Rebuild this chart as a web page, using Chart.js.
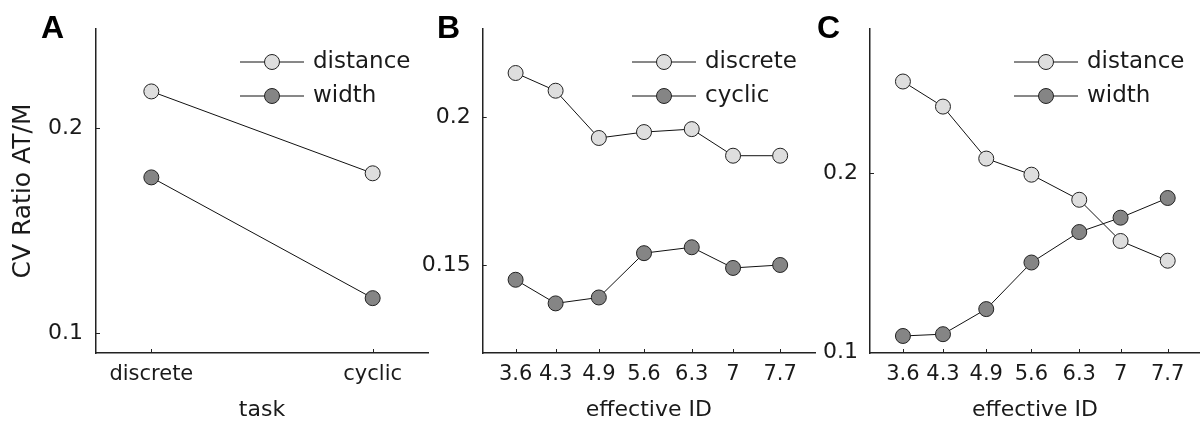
<!DOCTYPE html>
<html>
<head>
<meta charset="utf-8">
<script src="https://cdn.jsdelivr.net/npm/chart.js@4.4.1/dist/chart.umd.min.js"></script>
<style>
  body { margin: 0; background: #fff; }
  #wrap { position: relative; width: 1200px; height: 426px; overflow: hidden; background: #fff; }
  canvas { position: absolute; top: 0; }
</style>
</head>
<body>
<div id="wrap">
  <canvas id="chartA" width="430" height="426" style="left:0px"></canvas>
  <canvas id="chartB" width="420" height="426" style="left:400px"></canvas>
  <canvas id="chartC" width="410" height="426" style="left:790px"></canvas>
</div>
<script>
// panel A: task
const taskLabels = ["discrete", "cyclic"];
const taskPos = [1, 2];
const aDistance = [0.218, 0.178];
const aWidth = [0.176, 0.117];
const aTicks = [0.1, 0.2];

// panels B, C: effective ID
const idLabels = ["3.6", "4.3", "4.9", "5.6", "6.3", "7", "7.7"];
const idValues = [3.6, 4.22, 4.89, 5.59, 6.33, 6.97, 7.7];
const bDiscrete = [0.215, 0.209, 0.193, 0.195, 0.196, 0.187, 0.187];
const bCyclic = [0.145, 0.137, 0.139, 0.154, 0.156, 0.149, 0.150];
const bTicks = [0.15, 0.2];
const cDistance = [0.251, 0.237, 0.208, 0.199, 0.185, 0.162, 0.151];
const cWidth = [0.109, 0.110, 0.124, 0.150, 0.167, 0.175, 0.186];
const cTicks = [0.1, 0.2];

const LIGHT = "#dedede";
const DARK = "#858585";
const FONT = "'DejaVu Sans', sans-serif";

// inward ticks, legend with line-marker-line, panel letter
const panelDeco = {
  id: "panelDeco",
  afterDraw(chart, args, opts) {
    const { ctx, chartArea, scales: { x, y } } = chart;
    ctx.save();
    ctx.strokeStyle = "#222";
    ctx.lineWidth = 1;
    x.ticks.forEach(t => {
      const px = Math.round(x.getPixelForValue(t.value)) + 0.5;
      ctx.beginPath();
      ctx.moveTo(px, chartArea.bottom);
      ctx.lineTo(px, chartArea.bottom - 4);
      ctx.stroke();
    });
    y.ticks.forEach(t => {
      const py = Math.round(y.getPixelForValue(t.value)) + 0.5;
      ctx.beginPath();
      ctx.moveTo(chartArea.left, py);
      ctx.lineTo(chartArea.left + 4, py);
      ctx.stroke();
    });

    // legend inside the axes
    const x0 = chartArea.right - opts.dx;
    chart.data.datasets.forEach((ds, i) => {
      const ly = chartArea.top + 33 + i * 34;
      ctx.strokeStyle = "#111";
      ctx.lineWidth = 1;
      ctx.beginPath();
      ctx.moveTo(x0, ly);
      ctx.lineTo(x0 + 64, ly);
      ctx.stroke();
      ctx.beginPath();
      ctx.arc(x0 + 32, ly, 7.5, 0, Math.PI * 2);
      ctx.fillStyle = ds.backgroundColor;
      ctx.fill();
      ctx.strokeStyle = "#222";
      ctx.stroke();
      ctx.fillStyle = "#1a1a1a";
      ctx.font = "23px " + FONT;
      ctx.textBaseline = "middle";
      ctx.textAlign = "left";
      ctx.fillText(ds.label, x0 + 73, ly);
    });

    ctx.fillStyle = "#000";
    ctx.font = "bold 32px 'Liberation Sans', Arial, sans-serif";
    ctx.textBaseline = "alphabetic";
    ctx.fillText(opts.letter, opts.lx, 38);
    ctx.restore();
  }
};

function series(label, xs, ys, fill) {
  return {
    label: label,
    data: ys.map((v, i) => ({ x: xs[i], y: v })),
    borderColor: "#111",
    borderWidth: 1,
    backgroundColor: fill,
    pointBackgroundColor: fill,
    pointBorderColor: "#222",
    pointBorderWidth: 1,
    pointRadius: 7.5,
    clip: false
  };
}

function makeChart(id, cfg) {
  new Chart(document.getElementById(id), {
    type: "line",
    data: { datasets: cfg.datasets },
    plugins: [panelDeco],
    options: {
      responsive: false,
      animation: false,
      layout: { autoPadding: false, padding: { top: 29, right: cfg.padRight, left: 0, bottom: 0 } },
      plugins: {
        legend: { display: false },
        tooltip: { enabled: false },
        panelDeco: { dx: cfg.legendDx, letter: cfg.letter, lx: cfg.letterX }
      },
      scales: {
        x: {
          type: "linear",
          min: cfg.xMin,
          max: cfg.xMax,
          grid: { display: false },
          border: { display: true, color: "#222", width: 1.5 },
          afterBuildTicks: s => { s.ticks = cfg.xTickPos.map(v => ({ value: v })); },
          afterFit: s => { s.height = 73; s.paddingLeft = 0; s.paddingRight = 0; },
          ticks: {
            color: "#1a1a1a",
            font: { family: FONT, size: 21 },
            padding: 1,
            maxRotation: 0,
            autoSkip: false,
            callback: (v, i) => cfg.xTickLabels[i]
          },
          title: {
            display: true,
            text: cfg.xTitle,
            color: "#1a1a1a",
            font: { family: FONT, size: 22 },
            padding: { top: 0, bottom: 3 }
          }
        },
        y: {
          min: cfg.yMin,
          max: cfg.yMax,
          grid: { display: false },
          border: { display: true, color: "#222", width: 1.5 },
          afterBuildTicks: s => { s.ticks = cfg.yTicks.map(v => ({ value: v })); },
          afterFit: s => { s.width = cfg.yWidth; s.paddingTop = 0; s.paddingBottom = 0; },
          ticks: {
            color: "#1a1a1a",
            font: { family: FONT, size: 22 },
            padding: cfg.yPad,
            callback: v => String(v)
          },
          title: {
            display: !!cfg.yTitle,
            text: cfg.yTitle || "",
            color: "#1a1a1a",
            font: { family: FONT, size: 25 },
            padding: { top: 8, bottom: 0 }
          }
        }
      }
    }
  });
}

makeChart("chartA", {
  datasets: [series("distance", taskPos, aDistance, LIGHT), series("width", taskPos, aWidth, DARK)],
  xMin: 0.75, xMax: 2.25, xTickPos: taskPos, xTickLabels: taskLabels, xTitle: "task",
  yMin: 0.0902, yMax: 0.2485, yTicks: aTicks, yWidth: 96, yPad: 5, yTitle: "CV Ratio AT/M",
  padRight: 2, legendDx: 188, letter: "A", letterX: 41
});

makeChart("chartB", {
  datasets: [series("discrete", idValues, bDiscrete, LIGHT), series("cyclic", idValues, bCyclic, DARK)],
  xMin: 3.09, xMax: 8.24, xTickPos: idValues, xTickLabels: idLabels, xTitle: "effective ID",
  yMin: 0.1202, yMax: 0.2299, yTicks: bTicks, yWidth: 82.7, yPad: 4,
  padRight: 5, legendDx: 183, letter: "B", letterX: 37
});

makeChart("chartC", {
  datasets: [series("distance", idValues, cDistance, LIGHT), series("width", idValues, cWidth, DARK)],
  xMin: 3.09, xMax: 8.2, xTickPos: idValues, xTickLabels: idLabels, xTitle: "effective ID",
  yMin: 0.0995, yMax: 0.2803, yTicks: cTicks, yWidth: 80, yPad: 4,
  padRight: 0, legendDx: 186, letter: "C", letterX: 27
});
</script>
</body>
</html>
